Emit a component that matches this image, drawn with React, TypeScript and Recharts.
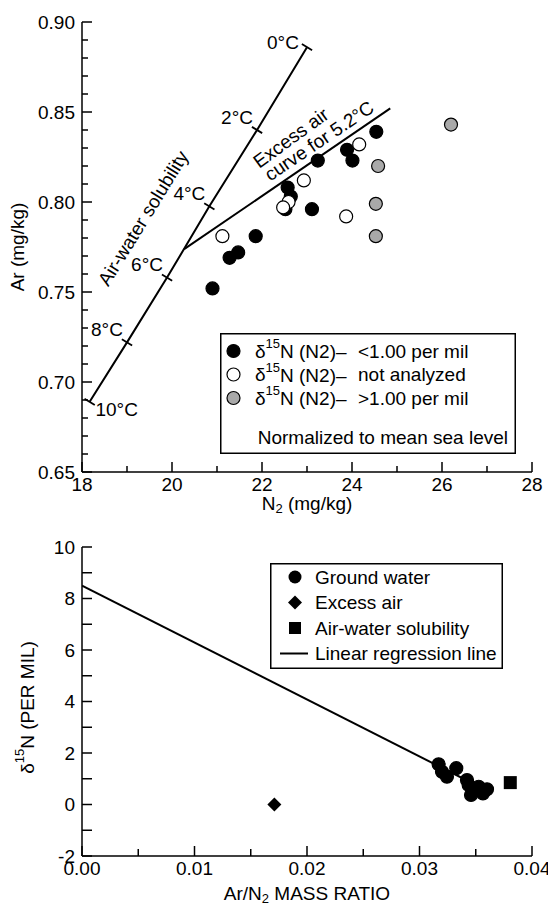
import React from 'react';
import { ScatterChart, Scatter, XAxis, YAxis, Legend, ReferenceDot } from 'recharts';

const FONT = '"Liberation Sans", Arial, Helvetica, sans-serif';
const INK = '#000';
const GRAY = '#a9a9a9';

// upper panel: dissolved N2 vs Ar (mg/kg)
const lowN2 = [24.54, 23.89, 24.01, 23.24, 22.57, 22.64, 22.52, 23.11, 21.86, 21.47, 21.28, 20.9];
const lowAr = [0.839, 0.829, 0.823, 0.823, 0.808, 0.803, 0.796, 0.796, 0.781, 0.772, 0.769, 0.752];
const openN2 = [24.16, 22.93, 22.59, 22.47, 23.87, 21.12];
const openAr = [0.832, 0.812, 0.8, 0.797, 0.792, 0.781];
const highN2 = [26.2, 24.58, 24.53, 24.53];
const highAr = [0.843, 0.82, 0.799, 0.781];

const solTemps = [0, 2, 4, 6, 8, 10];
const solN2 = [23.0, 21.89, 20.83, 19.89, 19.0, 18.17];
const solAr = [0.886, 0.84, 0.7976, 0.758, 0.722, 0.689];
const excessN2 = [20.27, 24.85];
const excessAr = [0.7738, 0.852];

const noteText = ['Air-water solubility', 'Excess air', 'curve for 5.2°C'];
const noteN2 = [19.36, 22.64, 23.27];
const noteAr = [0.791, 0.8356, 0.834];
const noteAngle = [-58.4, -36, -34];

const n2Ticks = [18, 19, 20, 21, 22, 23, 24, 25, 26, 27, 28];
const arTicks = [
  0.65, 0.66, 0.67, 0.68, 0.69, 0.7, 0.71, 0.72, 0.73, 0.74, 0.75, 0.76, 0.77,
  0.78, 0.79, 0.8, 0.81, 0.82, 0.83, 0.84, 0.85, 0.86, 0.87, 0.88, 0.89, 0.9,
];

// lower panel: Ar/N2 ratio vs d15N
const gwRatio = [0.0317, 0.032, 0.03244, 0.03327, 0.03422, 0.03437, 0.03458, 0.03526, 0.03564, 0.036];
const gwDelta = [1.56, 1.27, 1.08, 1.41, 0.95, 0.76, 0.37, 0.69, 0.43, 0.59];
const excessRatio = [0.0171];
const excessDelta = [0.0];
const solRatio = [0.03807];
const solDelta = [0.85];
const regRatio = [0, 0.0355];
const regDelta = [8.5, 0.65];

const ratioTicks = [0, 0.005, 0.01, 0.015, 0.02, 0.025, 0.03, 0.035, 0.04];
const deltaTicks = [-2, -1, 0, 1, 2, 3, 4, 5, 6, 7, 8, 9, 10];

const zip = (xs: number[], ys: number[]) => xs.map((x, i) => ({ x, y: ys[i] }));

const txt = { fontFamily: FONT, fontSize: 19, fill: INK };
const axisLine = { stroke: INK, strokeWidth: 1.5 };

type Side = 'bottom' | 'top' | 'left' | 'right';

function axisTick(side: Side, isMajor: (v: number) => boolean, fmt: ((v: number) => string) | null, major: number, minor: number) {
  return (props: any) => {
    const { x, y, payload } = props;
    const v = payload.value;
    const big = isMajor(v);
    const len = big ? major : minor;
    let x2 = x;
    let y2 = y;
    if (side === 'bottom') y2 = y - len;
    if (side === 'top') y2 = y + len;
    if (side === 'left') x2 = x + len;
    if (side === 'right') x2 = x - len;
    let label = null;
    if (fmt && big) {
      label = side === 'bottom'
        ? <text x={x} y={y + 12} textAnchor="middle" dominantBaseline="central" {...txt}>{fmt(v)}</text>
        : <text x={x - 7} y={y} textAnchor="end" dominantBaseline="central" {...txt}>{fmt(v)}</text>;
    }
    return (
      <g>
        <line x1={x} y1={y} x2={x2} y2={y2} stroke={INK} strokeWidth={1.5} />
        {label}
      </g>
    );
  };
}

const arMajor = (v: number) => Math.round(v * 100) % 5 === 0;
const evenMajor = (v: number) => Math.round(v) % 2 === 0;
const ratioMajor = (v: number) => Math.round(v * 1000) % 10 === 0;

const dot = (fill: string) => (p: any) => (
  <circle cx={p.cx} cy={p.cy} r={6.5} fill={fill} stroke={INK} strokeWidth={1.2} />
);

const diamond = (p: any) => (
  <path d={`M${p.cx},${p.cy - 7}L${p.cx + 7},${p.cy}L${p.cx},${p.cy + 7}L${p.cx - 7},${p.cy}Z`} fill={INK} />
);

const square = (p: any) => <rect x={p.cx - 6.5} y={p.cy - 6.5} width={13} height={13} fill={INK} />;

// temperature tick across the solubility line, with its label
const tempTick = (p: any) => {
  const { cx, cy, payload } = p;
  const dx = 6 * 0.852;
  const dy = 6 * 0.523;
  const t = payload.temp;
  const off = t === 10 ? [27, 8] : t === 0 ? [-24, -5] : [-20, -13];
  return (
    <g>
      <line x1={cx - dx} y1={cy - dy} x2={cx + dx} y2={cy + dy} stroke={INK} strokeWidth={1.8} />
      <text x={cx + off[0]} y={cy + off[1]} textAnchor="middle" dominantBaseline="central" {...txt}>{`${t}°C`}</text>
    </g>
  );
};

const rotText = (text: string, angle: number) => (p: any) => (
  <text x={p.cx} y={p.cy} transform={`rotate(${angle} ${p.cx} ${p.cy})`} textAnchor="middle" dominantBaseline="central" {...txt}>
    {text}
  </text>
);

const none = () => <g />;

const topRows = [
  { fill: INK, label: '<1.00 per mil' },
  { fill: '#fff', label: 'not analyzed' },
  { fill: GRAY, label: '>1.00 per mil' },
];

const TopLegend = () => (
  <svg width={296} height={121} style={{ display: 'block' }}>
    <rect x={0.75} y={0.75} width={294.5} height={119.5} fill="#fff" stroke={INK} strokeWidth={1.5} />
    {topRows.map((r, i) => {
      const cy = 18 + i * 23.5;
      return (
        <g key={r.label}>
          <circle cx={13.5} cy={cy} r={6.5} fill={r.fill} stroke={INK} strokeWidth={1.2} />
          <text x={35} y={cy} dominantBaseline="central" {...txt}>
            δ<tspan fontSize={13} dy={-8}>15</tspan><tspan dy={8}>N (N2)–</tspan>
          </text>
          <text x={138} y={cy} dominantBaseline="central" {...txt}>{r.label}</text>
        </g>
      );
    })}
    <text x={288} y={104} textAnchor="end" dominantBaseline="central" {...txt}>Normalized to mean sea level</text>
  </svg>
);

const bottomRows = ['Ground water', 'Excess air', 'Air-water solubility', 'Linear regression line'];

const BottomLegend = () => (
  <svg width={233} height={106} style={{ display: 'block' }}>
    <rect x={0.75} y={0.75} width={231.5} height={104.5} fill="#fff" stroke={INK} strokeWidth={1.5} />
    {bottomRows.map((label, i) => {
      const cy = 14 + i * 25.5;
      const cx = 25;
      let mark;
      if (i === 0) mark = <circle cx={cx} cy={cy} r={6.5} fill={INK} />;
      else if (i === 1) mark = diamond({ cx, cy });
      else if (i === 2) mark = <rect x={cx - 6} y={cy - 6} width={12} height={12} fill={INK} />;
      else mark = <line x1={10} y1={cy} x2={38} y2={cy} stroke={INK} strokeWidth={2} />;
      return (
        <g key={label}>
          {mark}
          <text x={45} y={cy} dominantBaseline="central" {...txt}>{label}</text>
        </g>
      );
    })}
  </svg>
);

function TopPanel() {
  const sol = solN2.map((x, i) => ({ x, y: solAr[i], temp: solTemps[i] }));
  return (
    <ScatterChart width={548} height={530} margin={{ top: 22, right: 16, bottom: 0, left: 22 }}>
      <XAxis
        dataKey="x" type="number" domain={[18, 28]} ticks={n2Ticks} interval={0} allowDataOverflow
        height={58} tickSize={0} tickMargin={0} tickLine={false} axisLine={axisLine}
        tick={axisTick('bottom', evenMajor, (v) => String(v), 10, 6)}
        label={{
          content: (p: any) => (
            <text x={p.viewBox.x + p.viewBox.width / 2} y={p.viewBox.y + 31} textAnchor="middle" dominantBaseline="central" {...txt}>
              N<tspan fontSize={13} dy={5}>2</tspan><tspan dy={-5}> (mg/kg)</tspan>
            </text>
          ),
        }}
      />
      <XAxis
        xAxisId="top" orientation="top" dataKey="x" type="number" domain={[18, 28]} ticks={n2Ticks} interval={0}
        allowDataOverflow height={0} tickSize={0} tickMargin={0} tickLine={false} axisLine={axisLine}
        tick={axisTick('top', evenMajor, null, 9, 6)}
      />
      <YAxis
        dataKey="y" type="number" domain={[0.65, 0.9]} ticks={arTicks} interval={0} allowDataOverflow
        width={60} tickSize={0} tickMargin={0} tickLine={false} axisLine={axisLine}
        tick={axisTick('left', arMajor, (v) => v.toFixed(2), 10, 6)}
        label={{
          content: (p: any) => {
            const x = p.viewBox.x - 5;
            const y = p.viewBox.y + p.viewBox.height / 2;
            return (
              <text x={x} y={y} transform={`rotate(-90 ${x} ${y})`} textAnchor="middle" dominantBaseline="central" {...txt}>
                Ar (mg/kg)
              </text>
            );
          },
        }}
      />
      <YAxis
        yAxisId="right" orientation="right" dataKey="y" type="number" domain={[0.65, 0.9]} ticks={arTicks} interval={0}
        allowDataOverflow width={0} tickSize={0} tickMargin={0} tickLine={false} axisLine={axisLine}
        tick={axisTick('right', arMajor, null, 10, 6)}
      />
      <Scatter data={sol} line={{ stroke: INK, strokeWidth: 2 }} lineJointType="linear" shape={tempTick} isAnimationActive={false} />
      <Scatter data={zip(excessN2, excessAr)} line={{ stroke: INK, strokeWidth: 2 }} shape={none} isAnimationActive={false} />
      <Scatter data={zip(lowN2, lowAr)} shape={dot(INK)} isAnimationActive={false} />
      <Scatter data={zip(openN2, openAr)} shape={dot('#fff')} isAnimationActive={false} />
      <Scatter data={zip(highN2, highAr)} shape={dot(GRAY)} isAnimationActive={false} />
      {noteText.map((t, i) => (
        <ReferenceDot key={t} x={noteN2[i]} y={noteAr[i]} r={0} shape={rotText(t, noteAngle[i])} />
      ))}
      <Legend
        content={TopLegend} layout="horizontal" verticalAlign="middle" align="center"
        wrapperStyle={{ left: 220, top: 333, width: 296, height: 121 }}
      />
    </ScatterChart>
  );
}

function BottomPanel() {
  return (
    <ScatterChart width={548} height={377} margin={{ top: 17, right: 16, bottom: 0, left: 22 }}>
      <XAxis
        dataKey="x" type="number" domain={[0, 0.04]} ticks={ratioTicks} interval={0} allowDataOverflow
        height={51} tickSize={0} tickMargin={0} tickLine={false} axisLine={axisLine}
        tick={axisTick('bottom', ratioMajor, (v) => v.toFixed(2), 10, 7)}
        label={{
          content: (p: any) => (
            <text x={p.viewBox.x + p.viewBox.width / 2} y={p.viewBox.y + 37} textAnchor="middle" dominantBaseline="central" {...txt}>
              Ar/N<tspan fontSize={13} dy={5}>2</tspan><tspan dy={-5}> MASS RATIO</tspan>
            </text>
          ),
        }}
      />
      <XAxis
        xAxisId="top" orientation="top" dataKey="x" type="number" domain={[0, 0.04]} ticks={ratioTicks} interval={0}
        allowDataOverflow height={0} tickSize={0} tickMargin={0} tickLine={false} axisLine={axisLine}
        tick={axisTick('top', ratioMajor, null, 8, 7)}
      />
      <YAxis
        dataKey="y" type="number" domain={[-2, 10]} ticks={deltaTicks} interval={0} allowDataOverflow
        width={60} tickSize={0} tickMargin={0} tickLine={false} axisLine={axisLine}
        tick={axisTick('left', evenMajor, (v) => String(v), 10, 10)}
        label={{
          content: (p: any) => {
            const x = p.viewBox.x + 5;
            const y = p.viewBox.y + p.viewBox.height / 2 + 6;
            return (
              <text x={x} y={y} transform={`rotate(-90 ${x} ${y})`} textAnchor="middle" dominantBaseline="central" {...txt}>
                δ<tspan fontSize={13} dy={-8}>15</tspan><tspan dy={8}>N (PER MIL)</tspan>
              </text>
            );
          },
        }}
      />
      <YAxis
        yAxisId="right" orientation="right" dataKey="y" type="number" domain={[-2, 10]} ticks={deltaTicks} interval={0}
        allowDataOverflow width={0} tickSize={0} tickMargin={0} tickLine={false} axisLine={axisLine}
        tick={axisTick('right', evenMajor, null, 10, 10)}
      />
      <Scatter data={zip(regRatio, regDelta)} line={{ stroke: INK, strokeWidth: 2 }} shape={none} isAnimationActive={false} />
      <Scatter data={zip(gwRatio, gwDelta)} shape={dot(INK)} isAnimationActive={false} />
      <Scatter data={zip(excessRatio, excessDelta)} shape={diamond} isAnimationActive={false} />
      <Scatter data={zip(solRatio, solDelta)} shape={square} isAnimationActive={false} />
      <Legend
        content={BottomLegend} layout="horizontal" verticalAlign="middle" align="center"
        wrapperStyle={{ left: 270, top: 33, width: 233, height: 106 }}
      />
    </ScatterChart>
  );
}

export default function App() {
  return (
    <div style={{ position: 'absolute', left: 0, top: 0, width: 548, height: 907, background: '#fff', fontFamily: FONT }}>
      <div style={{ position: 'absolute', left: 0, top: 0 }}>
        <TopPanel />
      </div>
      <div style={{ position: 'absolute', left: 0, top: 530 }}>
        <BottomPanel />
      </div>
    </div>
  );
}
